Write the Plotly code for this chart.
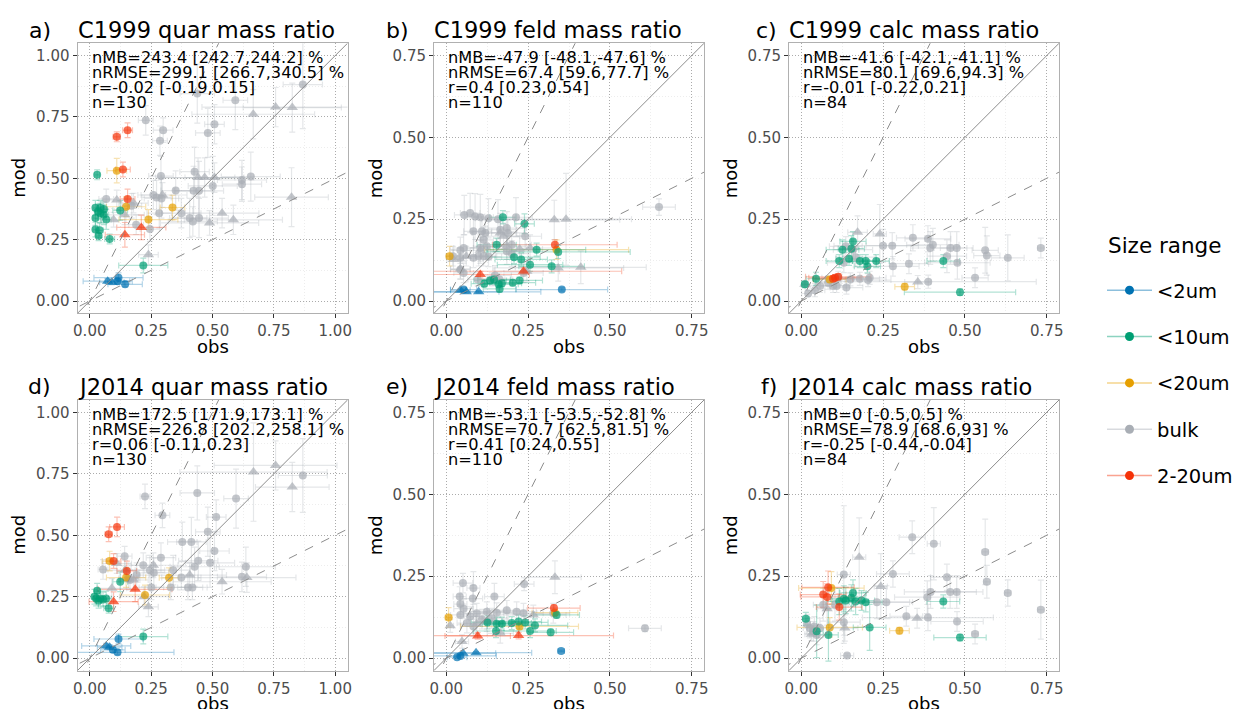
import plotly.graph_objects as go

W, H = 1260, 709   # slightly wider canvas so the legend is never clipped
OFFSET = 8  # page body margin of the browser, compensated in all placements
FONT = "DejaVu Sans"

# ---------------- data ----------------
GROUPS = ["<2um", "<10um", "<20um", "bulk", "2-20um"]
GROUP_COLORS = {"<2um": "#0072B2", "<10um": "#009E73", "<20um": "#E69F00",
                "bulk": "#A9AEB5", "2-20um": "#F53208"}
DRAW_ORDER = ["bulk", "<20um", "<10um", "2-20um", "<2um"]

PANEL_TAGS = ["a)", "b)", "c)", "d)", "e)", "f)"]
PANEL_TITLES = ["C1999 quar mass ratio", "C1999 feld mass ratio", "C1999 calc mass ratio",
                "J2014 quar mass ratio", "J2014 feld mass ratio", "J2014 calc mass ratio"]
PANEL_STATS = [
    ["nMB=243.4 [242.7,244.2] %", "nRMSE=299.1 [266.7,340.5] %", "r=-0.02 [-0.19,0.15]", "n=130"],
    ["nMB=-47.9 [-48.1,-47.6] %", "nRMSE=67.4 [59.6,77.7] %", "r=0.4 [0.23,0.54]", "n=110"],
    ["nMB=-41.6 [-42.1,-41.1] %", "nRMSE=80.1 [69.6,94.3] %", "r=-0.01 [-0.22,0.21]", "n=84"],
    ["nMB=172.5 [171.9,173.1] %", "nRMSE=226.8 [202.2,258.1] %", "r=0.06 [-0.11,0.23]", "n=130"],
    ["nMB=-53.1 [-53.5,-52.8] %", "nRMSE=70.7 [62.5,81.5] %", "r=0.41 [0.24,0.55]", "n=110"],
    ["nMB=0 [-0.5,0.5] %", "nRMSE=78.9 [68.6,93] %", "r=-0.25 [-0.44,-0.04]", "n=84"],
]
AXIS_MAX = [1.0, 0.75, 0.75, 1.0, 0.75, 0.75]
TICKS_MAJOR = [0.0, 0.25, 0.5, 0.75, 1.0]
TICKS_MINOR = [0.125, 0.375, 0.625, 0.875]
REF_SLOPES = [1.0, 2.0, 0.5]
LEGEND_TITLE = "Size range"

# each point: (obs, mod, obs_err, mod_err, shape)  c=circle t=triangle
A_BULK = [(0.228,0.736,0.03,0.06,"c"),(0.438,0.845,0.07,0.12,"c"),(0.593,0.818,0.05,0.12,"c"),
          (0.868,0.882,0.08,0.18,"c"),(0.299,0.696,0.04,0.05,"c"),(0.286,0.653,0.03,0.06,"c"),
          (0.508,0.72,0.04,0.08,"c"),(0.481,0.685,0.05,0.1,"c"),(0.427,0.527,0.06,0.1,"c"),
          (0.29,0.509,0.05,0.08,"c"),(0.656,0.507,0.12,0.1,"c"),(0.62,0.493,0.1,0.08,"c"),
          (0.62,0.476,0.08,0.07,"c"),(0.501,0.469,0.1,0.12,"c"),(0.35,0.45,0.06,0.08,"c"),
          (0.423,0.449,0.08,0.1,"c"),(0.445,0.449,0.1,0.12,"c"),(0.259,0.432,0.05,0.06,"c"),
          (0.272,0.422,0.06,0.07,"c"),(0.292,0.418,0.07,0.08,"c"),(0.067,0.416,0.03,0.04,"c"),
          (0.283,0.358,0.05,0.06,"c"),(0.407,0.338,0.07,0.08,"c"),(0.42,0.324,0.1,0.06,"c"),
          (0.445,0.338,0.12,0.08,"c"),(0.373,0.358,0.08,0.06,"c"),(0.245,0.293,0.04,0.05,"c"),
          (0.189,0.311,0.03,0.04,"c"),(0.171,0.388,0.04,0.05,"c"),
          (0.757,0.79,0.3,0.08,"t"),(0.825,0.788,0.2,0.1,"t"),(0.666,0.761,0.25,0.1,"t"),
          (0.822,0.423,0.15,0.12,"t"),(0.441,0.503,0.15,0.08,"t"),(0.468,0.503,0.2,0.08,"t"),
          (0.508,0.503,0.12,0.06,"t"),(0.539,0.358,0.15,0.06,"t"),(0.585,0.331,0.2,0.06,"t"),
          (0.488,0.318,0.2,0.05,"t"),(0.11,0.412,0.06,0.04,"t"),(0.142,0.351,0.08,0.04,"t"),
          (0.097,0.331,0.05,0.03,"t"),(0.178,0.399,0.06,0.04,"t"),(0.239,0.189,0.04,0.04,"t"),
          (0.296,0.432,0.1,0.05,"t")]
A_RED = [(0.11,0.669,0.015,0.02,"c"),(0.154,0.696,0.02,0.03,"c"),(0.135,0.536,0.03,0.03,"c"),
         (0.154,0.416,0.03,0.04,"c"),(0.143,0.27,0.08,0.05,"t"),(0.21,0.30,0.1,0.05,"t")]
A_ORANGE = [(0.11,0.531,0.04,0.05,"c"),(0.148,0.384,0.08,0.04,"c"),(0.239,0.332,0.12,0.04,"c"),
            (0.337,0.381,0.05,0.05,"c")]
A_GREEN = [(0.03,0.514,0.01,0.02,"c"),(0.023,0.38,0.01,0.03,"c"),(0.043,0.38,0.015,0.03,"c"),
           (0.057,0.374,0.015,0.03,"c"),(0.043,0.358,0.02,0.04,"c"),(0.067,0.332,0.02,0.04,"c"),
           (0.023,0.338,0.01,0.03,"c"),(0.023,0.291,0.01,0.03,"c"),(0.04,0.288,0.015,0.03,"c"),
           (0.036,0.266,0.01,0.02,"c"),(0.081,0.253,0.02,0.02,"c"),(0.124,0.369,0.03,0.04,"c"),
           (0.218,0.145,0.1,0.03,"c"),(0.057,0.351,0.02,0.04,"c"),(0.034,0.365,0.015,0.03,"c")]
A_BLUE = [(0.117,0.095,0.1,0.02,"c"),(0.144,0.068,0.07,0.01,"c"),(0.113,0.081,0.05,0.01,"c"),
          (0.073,0.081,0.1,0.01,"t"),(0.09,0.077,0.05,0.01,"t")]

B_BULK = [(0.055,0.263,0.03,0.06,"c"),(0.073,0.269,0.03,0.06,"c"),(0.088,0.258,0.03,0.07,"c"),
          (0.104,0.256,0.04,0.07,"c"),(0.129,0.253,0.04,0.06,"c"),(0.158,0.25,0.05,0.06,"c"),
          (0.213,0.256,0.05,0.06,"c"),(0.083,0.213,0.03,0.05,"c"),(0.109,0.213,0.03,0.05,"c"),
          (0.119,0.208,0.04,0.04,"c"),(0.165,0.218,0.05,0.05,"c"),(0.185,0.223,0.06,0.05,"c"),
          (0.188,0.208,0.05,0.04,"c"),(0.241,0.198,0.05,0.04,"c"),(0.114,0.187,0.03,0.04,"c"),
          (0.043,0.155,0.03,0.04,"c"),(0.053,0.162,0.03,0.04,"c"),(0.104,0.162,0.04,0.04,"c"),
          (0.124,0.167,0.04,0.04,"c"),(0.2,0.172,0.06,0.04,"c"),(0.02,0.137,0.02,0.03,"c"),
          (0.043,0.132,0.03,0.03,"c"),(0.083,0.132,0.03,0.03,"c"),(0.099,0.137,0.04,0.03,"c"),
          (0.114,0.137,0.04,0.03,"c"),(0.129,0.135,0.04,0.03,"c"),(0.185,0.152,0.05,0.04,"c"),
          (0.2,0.145,0.05,0.04,"c"),(0.043,0.096,0.03,0.03,"c"),(0.053,0.086,0.03,0.03,"c"),
          (0.149,0.078,0.05,0.03,"c"),(0.65,0.287,0.05,0.025,"c"),(0.096,0.066,0.03,0.02,"c"),
          (0.139,0.066,0.04,0.02,"c"),(0.163,0.066,0.04,0.02,"c"),(0.236,0.086,0.06,0.03,"c"),
          (0.33,0.248,0.2,0.06,"t"),(0.366,0.25,0.2,0.14,"t"),(0.342,0.101,0.2,0.04,"t"),
          (0.411,0.103,0.2,0.05,"t"),(0.022,0.127,0.02,0.03,"t"),(0.061,0.137,0.03,0.03,"t"),
          (0.104,0.155,0.04,0.04,"t"),(0.185,0.167,0.06,0.04,"t"),(0.224,0.159,0.07,0.04,"t"),
          (0.256,0.162,0.08,0.04,"t"),(0.165,0.208,0.05,0.04,"t"),(0.175,0.198,0.05,0.04,"t"),
          (0.043,0.098,0.03,0.03,"t"),(0.246,0.091,0.1,0.03,"t")]
B_GREEN = [(0.173,0.256,0.04,0.02,"c"),(0.239,0.236,0.03,0.03,"c"),(0.154,0.172,0.06,0.02,"c"),
           (0.207,0.134,0.08,0.02,"c"),(0.229,0.127,0.08,0.02,"c"),(0.256,0.111,0.1,0.02,"c"),
           (0.276,0.157,0.15,0.02,"c"),(0.322,0.106,0.1,0.02,"c"),(0.342,0.15,0.22,0.02,"c"),
           (0.116,0.053,0.04,0.01,"c"),(0.134,0.063,0.05,0.01,"c"),(0.146,0.066,0.05,0.01,"c"),
           (0.16,0.051,0.06,0.01,"c"),(0.17,0.054,0.06,0.01,"c"),(0.163,0.037,0.05,0.01,"c"),
           (0.203,0.056,0.07,0.01,"c"),(0.224,0.063,0.07,0.01,"c")]
B_ORANGE = [(0.01,0.137,0.01,0.03,"c"),(0.337,0.157,0.22,0.03,"c")]
B_RED = [(0.332,0.172,0.19,0.015,"c"),(0.104,0.081,0.15,0.01,"t"),(0.236,0.091,0.3,0.01,"t")]
B_BLUE = [(0.053,0.035,0.04,0.005,"c"),(0.353,0.035,0.14,0.005,"c"),(0.043,0.033,0.03,0.004,"t"),
          (0.061,0.028,0.1,0.004,"t"),(0.099,0.028,0.19,0.004,"t")]

C_BULK = [(0.341,0.193,0.05,0.04,"c"),(0.387,0.19,0.07,0.04,"c"),(0.402,0.172,0.08,0.05,"c"),
          (0.394,0.162,0.06,0.05,"c"),(0.456,0.162,0.05,0.05,"c"),(0.475,0.162,0.05,0.05,"c"),
          (0.562,0.155,0.04,0.07,"c"),(0.567,0.139,0.04,0.06,"c"),(0.631,0.132,0.05,0.07,"c"),
          (0.732,0.162,0.01,0.03,"c"),(0.25,0.169,0.15,0.05,"c"),(0.278,0.169,0.08,0.04,"c"),
          (0.445,0.137,0.06,0.05,"c"),(0.477,0.117,0.1,0.05,"c"),(0.28,0.106,0.08,0.03,"c"),
          (0.329,0.114,0.06,0.03,"c"),(0.531,0.071,0.04,0.03,"c"),(0.388,0.059,0.33,0.02,"c"),
          (0.166,0.134,0.06,0.03,"c"),(0.13,0.117,0.05,0.03,"c"),(0.136,0.167,0.05,0.03,"c"),
          (0.158,0.157,0.06,0.03,"c"),(0.15,0.066,0.06,0.02,"c"),(0.138,0.041,0.05,0.02,"c"),
          (0.108,0.046,0.04,0.02,"c"),(0.179,0.068,0.06,0.02,"c"),(0.204,0.064,0.07,0.02,"c"),
          (0.057,0.046,0.03,0.02,"c"),(0.021,0.023,0.02,0.01,"c"),(0.042,0.033,0.03,0.02,"c"),
          (0.082,0.056,0.04,0.02,"c"),(0.097,0.046,0.04,0.02,"c"),(0.209,0.071,0.05,0.02,"c"),
          (0.113,0.071,0.05,0.02,"c"),
          (0.172,0.21,0.03,0.05,"t"),(0.24,0.205,0.02,0.09,"t"),(0.356,0.058,0.04,0.02,"t"),
          (0.011,0.051,0.01,0.01,"t")]
C_GREEN = [(0.158,0.182,0.04,0.03,"c"),(0.126,0.157,0.05,0.03,"c"),(0.146,0.129,0.04,0.02,"c"),
           (0.116,0.122,0.04,0.02,"c"),(0.179,0.122,0.05,0.02,"c"),(0.197,0.122,0.04,0.02,"c"),
           (0.229,0.122,0.04,0.02,"c"),(0.202,0.106,0.04,0.02,"c"),(0.434,0.122,0.05,0.02,"c"),
           (0.485,0.027,0.17,0.01,"c"),(0.011,0.051,0.01,0.01,"c"),(0.045,0.068,0.03,0.02,"c"),
           (0.153,0.16,0.04,0.04,"c")]
C_ORANGE = [(0.316,0.044,0.03,0.01,"c"),(0.087,0.066,0.05,0.01,"c")]
C_RED = [(0.103,0.071,0.08,0.01,"c"),(0.113,0.074,0.1,0.01,"c"),(0.097,0.068,0.06,0.01,"c")]
C_BLUE = []

D_BULK = [(0.225,0.658,0.02,0.05,"c"),(0.438,0.672,0.07,0.11,"c"),(0.596,0.649,0.05,0.12,"c"),
          (0.296,0.581,0.03,0.05,"c"),(0.515,0.574,0.04,0.07,"c"),(0.868,0.743,0.1,0.15,"c"),
          (0.377,0.473,0.06,0.08,"c"),(0.414,0.473,0.06,0.1,"c"),(0.481,0.514,0.05,0.1,"c"),
          (0.508,0.436,0.06,0.08,"c"),(0.29,0.409,0.06,0.06,"c"),(0.142,0.415,0.03,0.04,"c"),
          (0.054,0.361,0.02,0.04,"c"),(0.218,0.378,0.05,0.05,"c"),(0.245,0.358,0.06,0.06,"c"),
          (0.261,0.347,0.06,0.06,"c"),(0.34,0.358,0.07,0.06,"c"),(0.442,0.396,0.08,0.08,"c"),
          (0.427,0.372,0.1,0.08,"c"),(0.49,0.388,0.1,0.1,"c"),(0.636,0.372,0.12,0.08,"c"),
          (0.373,0.328,0.08,0.05,"c"),(0.62,0.331,0.1,0.06,"c"),(0.251,0.288,0.05,0.05,"c"),
          (0.33,0.288,0.06,0.05,"c"),(0.4,0.288,0.06,0.05,"c"),(0.418,0.288,0.06,0.05,"c"),
          (0.191,0.338,0.05,0.05,"c"),(0.158,0.324,0.04,0.04,"c"),(0.164,0.318,0.04,0.04,"c"),
          (0.667,0.757,0.3,0.2,"t"),(0.757,0.784,0.25,0.1,"t"),(0.825,0.696,0.15,0.1,"t"),
          (0.539,0.311,0.2,0.05,"t"),(0.64,0.328,0.2,0.06,"t"),(0.407,0.338,0.15,0.05,"t"),
          (0.259,0.378,0.1,0.05,"t"),(0.239,0.209,0.04,0.04,"t"),(0.09,0.284,0.06,0.04,"t"),
          (0.221,0.25,0.1,0.04,"t"),(0.11,0.385,0.06,0.04,"t"),(0.144,0.358,0.08,0.04,"t"),
          (0.178,0.318,0.06,0.04,"t")]
D_RED = [(0.077,0.504,0.015,0.03,"c"),(0.111,0.534,0.03,0.04,"c"),(0.097,0.395,0.03,0.03,"c"),
         (0.151,0.355,0.04,0.04,"c"),(0.097,0.23,0.1,0.04,"t"),(0.185,0.28,0.15,0.05,"t")]
D_ORANGE = [(0.081,0.395,0.03,0.04,"c"),(0.323,0.327,0.04,0.04,"c"),(0.225,0.257,0.1,0.04,"c"),
            (0.148,0.328,0.08,0.04,"c")]
D_GREEN = [(0.03,0.274,0.01,0.03,"c"),(0.026,0.243,0.01,0.03,"c"),(0.043,0.243,0.015,0.03,"c"),
           (0.067,0.243,0.02,0.03,"c"),(0.036,0.234,0.01,0.03,"c"),(0.054,0.239,0.02,0.03,"c"),
           (0.077,0.203,0.02,0.02,"c"),(0.124,0.311,0.03,0.04,"c"),(0.218,0.088,0.1,0.03,"c"),
           (0.019,0.25,0.01,0.03,"c")]
D_BLUE = [(0.117,0.078,0.1,0.02,"c"),(0.094,0.034,0.05,0.01,"c"),(0.113,0.024,0.23,0.01,"c"),
          (0.067,0.05,0.1,0.01,"t"),(0.081,0.045,0.05,0.01,"t")]

E_BULK = [(0.051,0.229,0.03,0.03,"c"),(0.083,0.214,0.02,0.05,"c"),(0.041,0.188,0.02,0.03,"c"),
          (0.081,0.182,0.03,0.04,"c"),(0.147,0.188,0.03,0.04,"c"),(0.238,0.226,0.03,0.02,"c"),
          (0.043,0.165,0.02,0.03,"c"),(0.053,0.151,0.03,0.03,"c"),(0.607,0.091,0.05,0.01,"c"),
          (0.093,0.137,0.04,0.03,"c"),(0.124,0.142,0.05,0.03,"c"),(0.154,0.139,0.05,0.03,"c"),
          (0.185,0.146,0.06,0.03,"c"),(0.215,0.142,0.06,0.03,"c"),(0.236,0.137,0.06,0.03,"c"),
          (0.043,0.132,0.03,0.03,"c"),(0.073,0.127,0.04,0.03,"c"),(0.109,0.119,0.04,0.03,"c"),
          (0.139,0.122,0.05,0.03,"c"),(0.083,0.097,0.04,0.03,"c"),(0.063,0.107,0.03,0.03,"c"),
          (0.327,0.137,0.05,0.03,"c"),
          (0.332,0.247,0.08,0.05,"t"),(0.266,0.132,0.1,0.03,"t"),(0.012,0.099,0.01,0.02,"t"),
          (0.048,0.051,0.02,0.02,"t"),(0.165,0.076,0.04,0.03,"t"),(0.093,0.105,0.04,0.03,"t"),
          (0.124,0.112,0.05,0.03,"t")]
E_GREEN = [(0.126,0.109,0.05,0.02,"c"),(0.154,0.105,0.05,0.02,"c"),(0.17,0.105,0.06,0.02,"c"),
           (0.2,0.107,0.06,0.02,"c"),(0.221,0.112,0.07,0.02,"c"),(0.241,0.109,0.07,0.02,"c"),
           (0.271,0.1,0.1,0.02,"c"),(0.256,0.083,0.08,0.02,"c"),(0.152,0.083,0.07,0.02,"c"),
           (0.319,0.079,0.07,0.01,"c"),(0.337,0.132,0.07,0.01,"c")]
E_ORANGE = [(0.007,0.124,0.01,0.03,"c"),(0.224,0.097,0.18,0.01,"c"),(0.332,0.139,0.07,0.01,"c")]
E_RED = [(0.329,0.153,0.08,0.01,"c"),(0.096,0.068,0.1,0.01,"t"),(0.221,0.069,0.29,0.01,"t")]
E_BLUE = [(0.033,0.003,0.03,0.003,"c"),(0.043,0.007,0.11,0.003,"c"),(0.351,0.022,0.01,0.003,"c"),
          (0.051,0.015,0.1,0.003,"t"),(0.091,0.017,0.17,0.003,"t")]

F_BULK = [(0.339,0.369,0.04,0.05,"c"),(0.405,0.349,0.02,0.11,"c"),(0.562,0.324,0.01,0.1,"c"),
          (0.567,0.233,0.01,0.05,"c"),(0.28,0.257,0.05,0.04,"c"),(0.445,0.247,0.05,0.04,"c"),
          (0.395,0.202,0.08,0.05,"c"),(0.455,0.202,0.08,0.05,"c"),(0.475,0.202,0.08,0.05,"c"),
          (0.631,0.199,0.01,0.04,"c"),(0.385,0.186,0.1,0.05,"c"),(0.732,0.148,0.01,0.09,"c"),
          (0.321,0.128,0.05,0.03,"c"),(0.387,0.124,0.2,0.04,"c"),(0.476,0.112,0.08,0.03,"c"),
          (0.531,0.074,0.01,0.03,"c"),(0.14,0.008,0.02,0.005,"c"),(0.13,0.255,0.02,0.21,"c"),
          (0.26,0.171,0.08,0.05,"c"),(0.231,0.171,0.1,0.05,"c"),(0.067,0.163,0.03,0.05,"c"),
          (0.103,0.163,0.04,0.05,"c"),(0.13,0.11,0.05,0.04,"c"),(0.018,0.104,0.01,0.03,"c"),
          (0.026,0.092,0.02,0.03,"c"),(0.037,0.082,0.02,0.03,"c"),(0.047,0.071,0.02,0.03,"c"),
          (0.04,0.097,0.02,0.03,"c"),(0.057,0.092,0.02,0.03,"c"),
          (0.177,0.308,0.02,0.12,"t"),(0.243,0.219,0.02,0.1,"t"),(0.354,0.122,0.04,0.03,"t"),
          (0.079,0.151,0.03,0.05,"t"),(0.133,0.092,0.04,0.04,"t"),(0.031,0.073,0.02,0.02,"t")]
F_GREEN = [(0.158,0.199,0.04,0.04,"c"),(0.153,0.184,0.04,0.04,"c"),(0.13,0.181,0.04,0.04,"c"),
           (0.116,0.173,0.04,0.04,"c"),(0.136,0.176,0.04,0.04,"c"),(0.184,0.176,0.04,0.03,"c"),
           (0.197,0.171,0.05,0.03,"c"),(0.434,0.173,0.05,0.02,"c"),(0.014,0.12,0.01,0.02,"c"),
           (0.047,0.082,0.02,0.08,"c"),(0.083,0.071,0.03,0.08,"c"),(0.209,0.094,0.05,0.07,"c"),
           (0.485,0.063,0.08,0.01,"c"),(0.166,0.173,0.04,0.04,"c")]
F_ORANGE = [(0.092,0.214,0.1,0.05,"c"),(0.3,0.084,0.03,0.01,"c"),(0.087,0.094,0.1,0.03,"c")]
F_RED = [(0.082,0.216,0.08,0.05,"c"),(0.067,0.194,0.07,0.04,"c"),(0.079,0.187,0.08,0.04,"c"),
         (0.116,0.156,0.07,0.04,"c")]
F_BLUE = []

PANEL_DATA = [
    {"bulk": A_BULK, "<20um": A_ORANGE, "<10um": A_GREEN, "2-20um": A_RED, "<2um": A_BLUE},
    {"bulk": B_BULK, "<20um": B_ORANGE, "<10um": B_GREEN, "2-20um": B_RED, "<2um": B_BLUE},
    {"bulk": C_BULK, "<20um": C_ORANGE, "<10um": C_GREEN, "2-20um": C_RED, "<2um": C_BLUE},
    {"bulk": D_BULK, "<20um": D_ORANGE, "<10um": D_GREEN, "2-20um": D_RED, "<2um": D_BLUE},
    {"bulk": E_BULK, "<20um": E_ORANGE, "<10um": E_GREEN, "2-20um": E_RED, "<2um": E_BLUE},
    {"bulk": F_BULK, "<20um": F_ORANGE, "<10um": F_GREEN, "2-20um": F_RED, "<2um": F_BLUE},
]

# ---------------- layout geometry (screen pixels) ----------------
COL_X = [(77.5, 347.5), (434.0, 704.0), (789.0, 1059.0)]
ROW_Y = [(43.3, 313.3), (400.0, 670.5)]
TAG_X = [27, 384, 754, 26, 384, 759]


def px(x):
    return (x - OFFSET) / W


def py(y):
    return 1 - (y - OFFSET) / H


def rgba(hexc, a):
    h = hexc.lstrip("#")
    r, g, b = int(h[0:2], 16), int(h[2:4], 16), int(h[4:6], 16)
    return f"rgba({r},{g},{b},{a})"


fig = go.Figure()
annotations = []

for i in range(6):
    k = i + 1
    row, col = divmod(i, 3)
    xa = "x" if k == 1 else f"x{k}"
    ya = "y" if k == 1 else f"y{k}"
    mx = AXIS_MAX[i]
    lo, hi = -0.05 * mx, 1.05 * mx
    ticks = [t for t in TICKS_MAJOR if t <= mx + 1e-9]
    minors = [t for t in TICKS_MINOR if t <= mx]
    axis_common = dict(
        range=[lo, hi], tickvals=ticks, ticktext=[f"{t:.2f}" for t in ticks],
        showgrid=True, gridcolor="#ABABAB", griddash="1px,2px", gridwidth=1,
        minor=dict(tickvals=minors, showgrid=True, gridcolor="#EDEDED", gridwidth=1, ticks=""),
        zeroline=False, showline=True, mirror=True, linecolor="#B0B0B0", linewidth=1,
        ticks="outside", ticklen=4, tickwidth=1, tickcolor="#333333",
        tickfont=dict(family=FONT, size=15, color="#4D4D4D"),
        automargin=False,
    )
    fig.layout[f"xaxis{'' if k == 1 else k}"] = dict(
        domain=[px(COL_X[col][0]), px(COL_X[col][1])], anchor=ya, **axis_common)
    fig.layout[f"yaxis{'' if k == 1 else k}"] = dict(
        domain=[py(ROW_Y[row][1]), py(ROW_Y[row][0])], anchor=xa, **axis_common)

    data = PANEL_DATA[i]
    # error bars (drawn under the points)
    for g in DRAW_ORDER:
        pts = data[g]
        if not pts:
            continue
        col_hex = GROUP_COLORS[g]
        fig.add_trace(go.Scatter(
            x=[p[0] for p in pts], y=[p[1] for p in pts], mode="markers",
            marker=dict(size=1, color="rgba(0,0,0,0)"),
            error_x=dict(type="data", array=[p[2] for p in pts], color=rgba(col_hex, 0.3),
                         thickness=1.2, width=3),
            error_y=dict(type="data", array=[p[3] for p in pts], color=rgba(col_hex, 0.3),
                         thickness=1.2, width=3),
            xaxis=xa, yaxis=ya, showlegend=False, hoverinfo="skip"))
    # points
    for g in DRAW_ORDER:
        pts = data[g]
        if not pts:
            continue
        fig.add_trace(go.Scatter(
            x=[p[0] for p in pts], y=[p[1] for p in pts], mode="markers",
            marker=dict(size=[8 if p[4] == "c" else 10 for p in pts],
                        symbol=["circle" if p[4] == "c" else "triangle-up" for p in pts],
                        color=GROUP_COLORS[g], line=dict(width=0)),
            xaxis=xa, yaxis=ya, showlegend=False, name=g))
    # reference lines 1:1, 2:1, 1:2
    for s in REF_SLOPES:
        xs = [-0.5, 1.5]
        fig.add_trace(go.Scatter(
            x=xs, y=[s * v for v in xs], mode="lines",
            line=dict(color="#8C8C8C", width=1, dash="solid" if s == 1.0 else "dash"),
            xaxis=xa, yaxis=ya, showlegend=False, hoverinfo="skip"))

    # titles / tags / axis titles
    top, bot = ROW_Y[row]
    left, right = COL_X[col]
    annotations.append(dict(text=PANEL_TAGS[i], x=px(TAG_X[i]), y=py(top - 13), xref="paper",
                            yref="paper", xanchor="left", yanchor="middle", showarrow=False,
                            font=dict(family=FONT, size=22, color="black")))
    annotations.append(dict(text=PANEL_TITLES[i], x=px(left - 2), y=py(top - 13), xref="paper",
                            yref="paper", xanchor="left", yanchor="middle", showarrow=False,
                            font=dict(family=FONT, size=22.5, color="black")))
    annotations.append(dict(text="obs", x=px((left + right) / 2), y=py(bot + 33), xref="paper",
                            yref="paper", xanchor="center", yanchor="middle", showarrow=False,
                            font=dict(family=FONT, size=18, color="black")))
    annotations.append(dict(text="mod", x=px(left - 59), y=py((top + bot) / 2), xref="paper",
                            yref="paper", xanchor="center", yanchor="middle", showarrow=False,
                            textangle=-90, font=dict(family=FONT, size=18, color="black")))
    for j, line in enumerate(PANEL_STATS[i]):
        annotations.append(dict(text=line, x=0, xref=xa, y=1 - (14.5 + 15 * j) / 270,
                                yref=f"{ya} domain", xanchor="left", yanchor="middle",
                                showarrow=False, font=dict(family=FONT, size=16.2, color="black")))

# legend title as a text label
annotations.append(dict(text=LEGEND_TITLE, x=px(1106), y=py(246), xref="paper", yref="paper",
                        xanchor="left", yanchor="middle", showarrow=False,
                        font=dict(family=FONT, size=21.5, color="black")))

# legend entries
for g in GROUPS:
    fig.add_trace(go.Scatter(
        x=[None], y=[None], mode="lines+markers", name=g, legendgroup=g,
        line=dict(color=rgba(GROUP_COLORS[g], 0.45), width=1.5),
        marker=dict(color=GROUP_COLORS[g], size=9, symbol="circle")))

fig.update_layout(
    width=W, height=H, margin=dict(l=0, r=0, t=0, b=0),
    paper_bgcolor="white", plot_bgcolor="white",
    annotations=annotations,
    legend=dict(x=px(1102), y=py(271), xanchor="left", yanchor="top",
                font=dict(family=FONT, size=19.5, color="black"),
                tracegroupgap=18, itemwidth=45, bgcolor="rgba(0,0,0,0)"),
    font=dict(family=FONT),
)

fig.write_html("out.html")
